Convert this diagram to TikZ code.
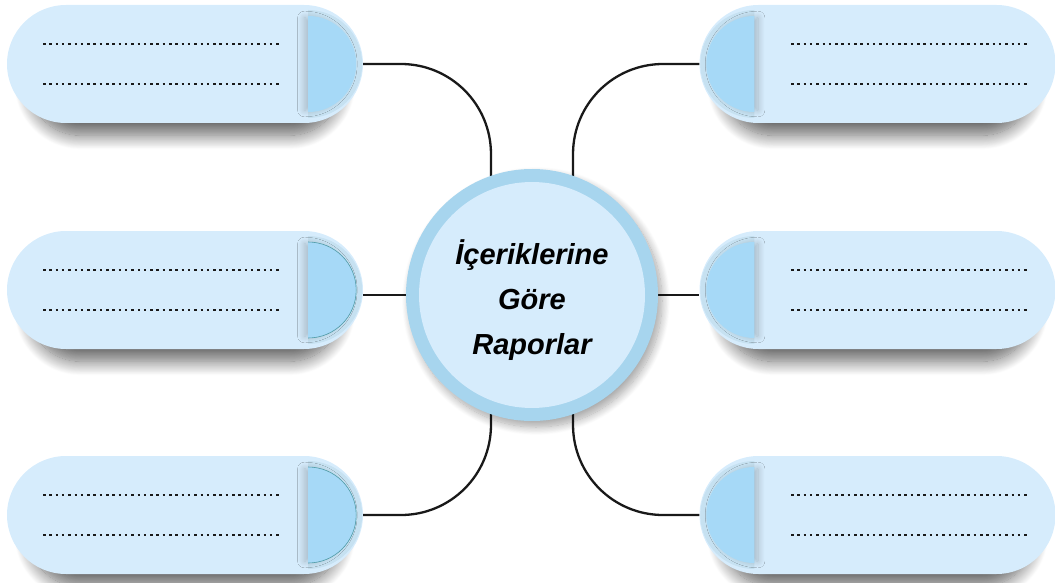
\documentclass[tikz,border=0pt]{standalone}
\usepackage{fontspec}
\setmainfont{Liberation Sans}
\usetikzlibrary{shapes.misc,shadows.blur,calc}
\definecolor{pillblue}{HTML}{D6ECFC}
\definecolor{capblue}{HTML}{A6D9F7}
\definecolor{halo}{HTML}{C6E1F1}
\definecolor{ringblue}{HTML}{A7D5EE}
\definecolor{capline}{HTML}{4E9AA6}
\tikzset{
  pill/.style={rounded rectangle, fill=pillblue, minimum width=356pt, minimum height=118pt, inner sep=0pt,
    blur shadow={shadow xshift=0pt, shadow yshift=-22pt, shadow scale=0.88, shadow blur radius=16pt,
      shadow blur steps=20, shadow opacity=60}},
  halfcap/.style={fill=capblue},
  lcap/.style={halfcap, blur shadow={shadow xshift=-5pt, shadow yshift=0pt, shadow scale=0.96,
      shadow blur radius=7pt, shadow blur steps=14, shadow opacity=22}},
  rcap/.style={halfcap, blur shadow={shadow xshift=5pt, shadow yshift=0pt, shadow scale=0.96,
      shadow blur radius=7pt, shadow blur steps=14, shadow opacity=22}},
  dots/.style={line width=2.5pt, dash pattern=on 2.5pt off 3.8pt, black!90},
  link/.style={line width=2.3pt, black!90, rounded corners=90pt}
}
\begin{document}
\begin{tikzpicture}[x=1pt,y=-1pt]
  \useasboundingbox (0,0) rectangle (1055,583);

  % left pills
  \node[pill] (tl) at (185,64) {};
  \node[pill] (ml) at (185,290) {};
  \node[pill] (bl) at (185,515) {};
  % right pills
  \node[pill] (tr) at (877.5,64) {};
  \node[pill] (mr) at (877.5,290) {};
  \node[pill] (br) at (877.5,515) {};

  % caps
  \foreach \p in {tl,ml,bl}{
    \fill[halo] ($(\p.east)+(-55,-54)$) arc (270:450:54) -- cycle;
    \fill[lcap] ($(\p.east)+(-55,-48)$) arc (270:450:48) -- cycle;
  }
  \draw[capline, line width=0.6pt] ($(ml.east)+(-55,-48)$) arc (270:450:48);
  \draw[capline, line width=0.6pt] ($(bl.east)+(-55,-48)$) arc (270:450:48);
  \foreach \p in {tr,mr,br}{
    \fill[halo] ($(\p.west)+(55,-54)$) arc (270:90:54) -- cycle;
    \fill[rcap] ($(\p.west)+(55,-48)$) arc (270:90:48) -- cycle;
  }

  % dotted lines
  \foreach \p in {tl,ml,bl}{
    \draw[dots] ($(\p.center)+(-142,-20)$) -- +(237,0);
    \draw[dots] ($(\p.center)+(-142,20)$) -- +(237,0);
  }
  \foreach \p in {tr,mr,br}{
    \draw[dots] ($(\p.center)+(-86.5,-20)$) -- +(237,0);
    \draw[dots] ($(\p.center)+(-86.5,20)$) -- +(237,0);
  }

  % centre
  \coordinate (mid) at (532,295);
  \path (mid) +(109:126pt) coordinate (ctl) +(71:126pt) coordinate (ctr)
    +(251:126pt) coordinate (cbl) +(289:126pt) coordinate (cbr)
    +(180:126pt) coordinate (cml) +(0:126pt) coordinate (cmr);

  % connectors
  \draw[link] (tl.east) -| (ctl);
  \draw[link] (tr.west) -| (ctr);
  \draw[link] (bl.east) -| (cbl);
  \draw[link] (br.west) -| (cbr);
  \draw[link] (cml) -- (cml -| ml.east);
  \draw[link] (cmr) -- (cmr -| mr.west);

  \node[circle, fill=ringblue, minimum size=252pt, inner sep=0pt,
    blur shadow={shadow xshift=4pt, shadow yshift=-6pt, shadow blur radius=8pt, shadow blur steps=14, shadow opacity=35}] (circ) at (mid) {};
  \node[circle, fill=pillblue, minimum size=226pt, inner sep=0pt] (inner) at (circ) {};
  \node[align=center, font=\fontsize{29}{45}\selectfont\bfseries\itshape] (title) at ($(circ.center)+(0,5)$) {İçeriklerine\\Göre\\Raporlar};
\end{tikzpicture}
\end{document}
